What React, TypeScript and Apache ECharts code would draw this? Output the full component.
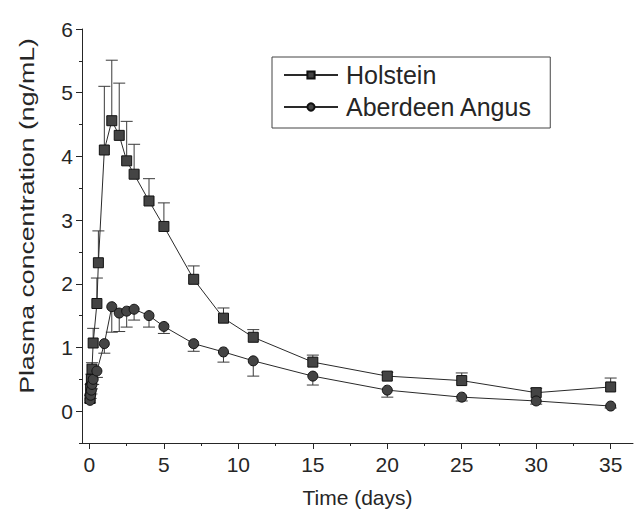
import React, { useEffect, useRef } from "react";
import * as echarts from "echarts";

// Sampling times (days) and plasma concentration (ng/mL), mean with SD
const holTime = [0.04, 0.08, 0.13, 0.17, 0.25, 0.5, 0.6, 1, 1.5, 2, 2.5, 3, 4, 5, 7, 9, 11, 15, 20, 25, 30, 35];
const holMean = [0.2, 0.36, 0.5, 0.66, 1.07, 1.69, 2.33, 4.1, 4.56, 4.33, 3.93, 3.72, 3.3, 2.9, 2.07, 1.46, 1.16, 0.77, 0.55, 0.48, 0.29, 0.38];
const holSd = [0.05, 0.06, 0.08, 0.1, 0.23, 0.4, 0.5, 1.0, 0.95, 0.82, 0.62, 0.47, 0.35, 0.37, 0.21, 0.16, 0.12, 0.11, 0.06, 0.12, 0.07, 0.14];

const angTime = [0.04, 0.08, 0.13, 0.17, 0.25, 0.5, 1, 1.5, 2, 2.5, 3, 4, 5, 7, 9, 11, 15, 20, 25, 30, 35];
const angMean = [0.17, 0.25, 0.33, 0.42, 0.5, 0.63, 1.06, 1.64, 1.54, 1.57, 1.6, 1.5, 1.33, 1.06, 0.93, 0.79, 0.55, 0.33, 0.22, 0.16, 0.08];
const angSd = [0.04, 0.05, 0.06, 0.07, 0.08, 0.1, 0.15, 0.4, 0.29, 0.25, 0.17, 0.18, 0.11, 0.12, 0.16, 0.24, 0.14, 0.11, 0.06, 0.05, 0.03];

const xTicks = [0, 5, 10, 15, 20, 25, 30, 35];
const xMinorTicks = [2.5, 7.5, 12.5, 17.5, 22.5, 27.5, 32.5];
const yTicks = [0, 1, 2, 3, 4, 5, 6];
const yMinorTicks = [-0.5, 0.5, 1.5, 2.5, 3.5, 4.5, 5.5];

const INK = "#262626";
const FONT = "'Liberation Sans', Arial, Helvetica, sans-serif";

function errorBars(sign: number) {
  return (params: any, api: any) => {
    const x = api.value(0);
    const m = api.value(1);
    const e = api.value(2);
    const p1 = api.coord([x, m]);
    const p2 = api.coord([x, m + sign * e]);
    const half = 6;
    const style = { stroke: "#3a3a3a", lineWidth: 1 };
    return {
      type: "group",
      children: [
        { type: "line", shape: { x1: p1[0], y1: p1[1], x2: p2[0], y2: p2[1] }, style },
        { type: "line", shape: { x1: p2[0] - half, y1: p2[1], x2: p2[0] + half, y2: p2[1] }, style },
      ],
    };
  };
}

export default function App() {
  const ref = useRef<HTMLDivElement>(null);

  useEffect(() => {
    if (!ref.current) return;
    const chart = echarts.init(ref.current, null, { renderer: "svg" });

    const holLine = holTime.map((t, i) => [t, holMean[i]]);
    const angLine = angTime.map((t, i) => [t, angMean[i]]);
    const holErr = holTime.map((t, i) => [t, holMean[i], holSd[i]]);
    const angErr = angTime.map((t, i) => [t, angMean[i], angSd[i]]);

    const axisText = { color: INK, fontSize: 21, fontFamily: FONT };

    chart.setOption({
      animation: false,
      backgroundColor: "#fff",
      grid: { left: 82, right: 1, top: 29, bottom: 79, containLabel: false },
      xAxis: [
        {
          type: "value",
          min: -0.5,
          max: 36.5,
          axisLine: { onZero: false, lineStyle: { color: INK, width: 1 } },
          axisTick: { customValues: xTicks, length: 6, lineStyle: { color: INK } },
          axisLabel: { customValues: xTicks, margin: 11, ...axisText },
          splitLine: { show: false },
          name: "Time (days)",
          nameLocation: "middle",
          nameGap: 44,
          nameTextStyle: { color: INK, fontSize: 21, fontFamily: FONT },
        },
        {
          type: "value",
          min: -0.5,
          max: 36.5,
          position: "bottom",
          axisLine: { show: false, onZero: false },
          axisTick: { customValues: xMinorTicks, length: 3, lineStyle: { color: INK } },
          axisLabel: { show: false },
          splitLine: { show: false },
        },
      ],
      yAxis: [
        {
          type: "value",
          min: -0.5,
          max: 6,
          axisLine: { show: true, onZero: false, lineStyle: { color: INK, width: 1 } },
          axisTick: { show: true, customValues: yTicks, length: 6, lineStyle: { color: INK } },
          axisLabel: { customValues: yTicks, margin: 9, ...axisText },
          splitLine: { show: false },
        },
        {
          type: "value",
          min: -0.5,
          max: 6,
          position: "left",
          axisLine: { show: false, onZero: false },
          axisTick: { show: true, customValues: yMinorTicks, length: 3, lineStyle: { color: INK } },
          axisLabel: { show: false },
          splitLine: { show: false },
        },
      ],
      legend: {
        data: ["Holstein", "Aberdeen Angus"],
        orient: "vertical",
        left: 272,
        top: 57,
        padding: [4, 18, 7, 11],
        itemWidth: 54,
        itemHeight: 9,
        itemGap: 4,
        borderColor: "#444",
        borderWidth: 1,
        textStyle: { color: INK, fontSize: 25, fontFamily: FONT, lineHeight: 28, padding: [0, 0, 0, 3] },
      },
      graphic: [
        {
          type: "text",
          x: 27,
          y: 216,
          rotation: Math.PI / 2,
          scaleX: 1.27,
          style: {
            text: "Plasma concentration (ng/mL)",
            fontSize: 21,
            fontFamily: FONT,
            fill: INK,
            align: "center",
            verticalAlign: "middle",
          },
        },
      ],
      series: [
        {
          type: "custom",
          name: "Holstein SD",
          renderItem: errorBars(1),
          data: holErr,
          z: 1,
          silent: true,
        },
        {
          type: "custom",
          name: "Aberdeen Angus SD",
          renderItem: errorBars(-1),
          data: angErr,
          z: 1,
          silent: true,
        },
        {
          type: "line",
          name: "Holstein",
          data: holLine,
          symbol: "rect",
          symbolSize: 10,
          lineStyle: { color: "#2a2a2a", width: 1 },
          itemStyle: { color: "#444", borderColor: "#111", borderWidth: 1 },
          z: 3,
        },
        {
          type: "line",
          name: "Aberdeen Angus",
          data: angLine,
          symbol: "circle",
          symbolSize: 10,
          lineStyle: { color: "#2a2a2a", width: 1 },
          itemStyle: { color: "#444", borderColor: "#111", borderWidth: 1 },
          z: 3,
        },
      ],
    });

    return () => chart.dispose();
  }, []);

  return (
    <div
      ref={ref}
      style={{ position: "fixed", left: 0, top: 0, width: 634, height: 522, background: "#fff" }}
    />
  );
}
